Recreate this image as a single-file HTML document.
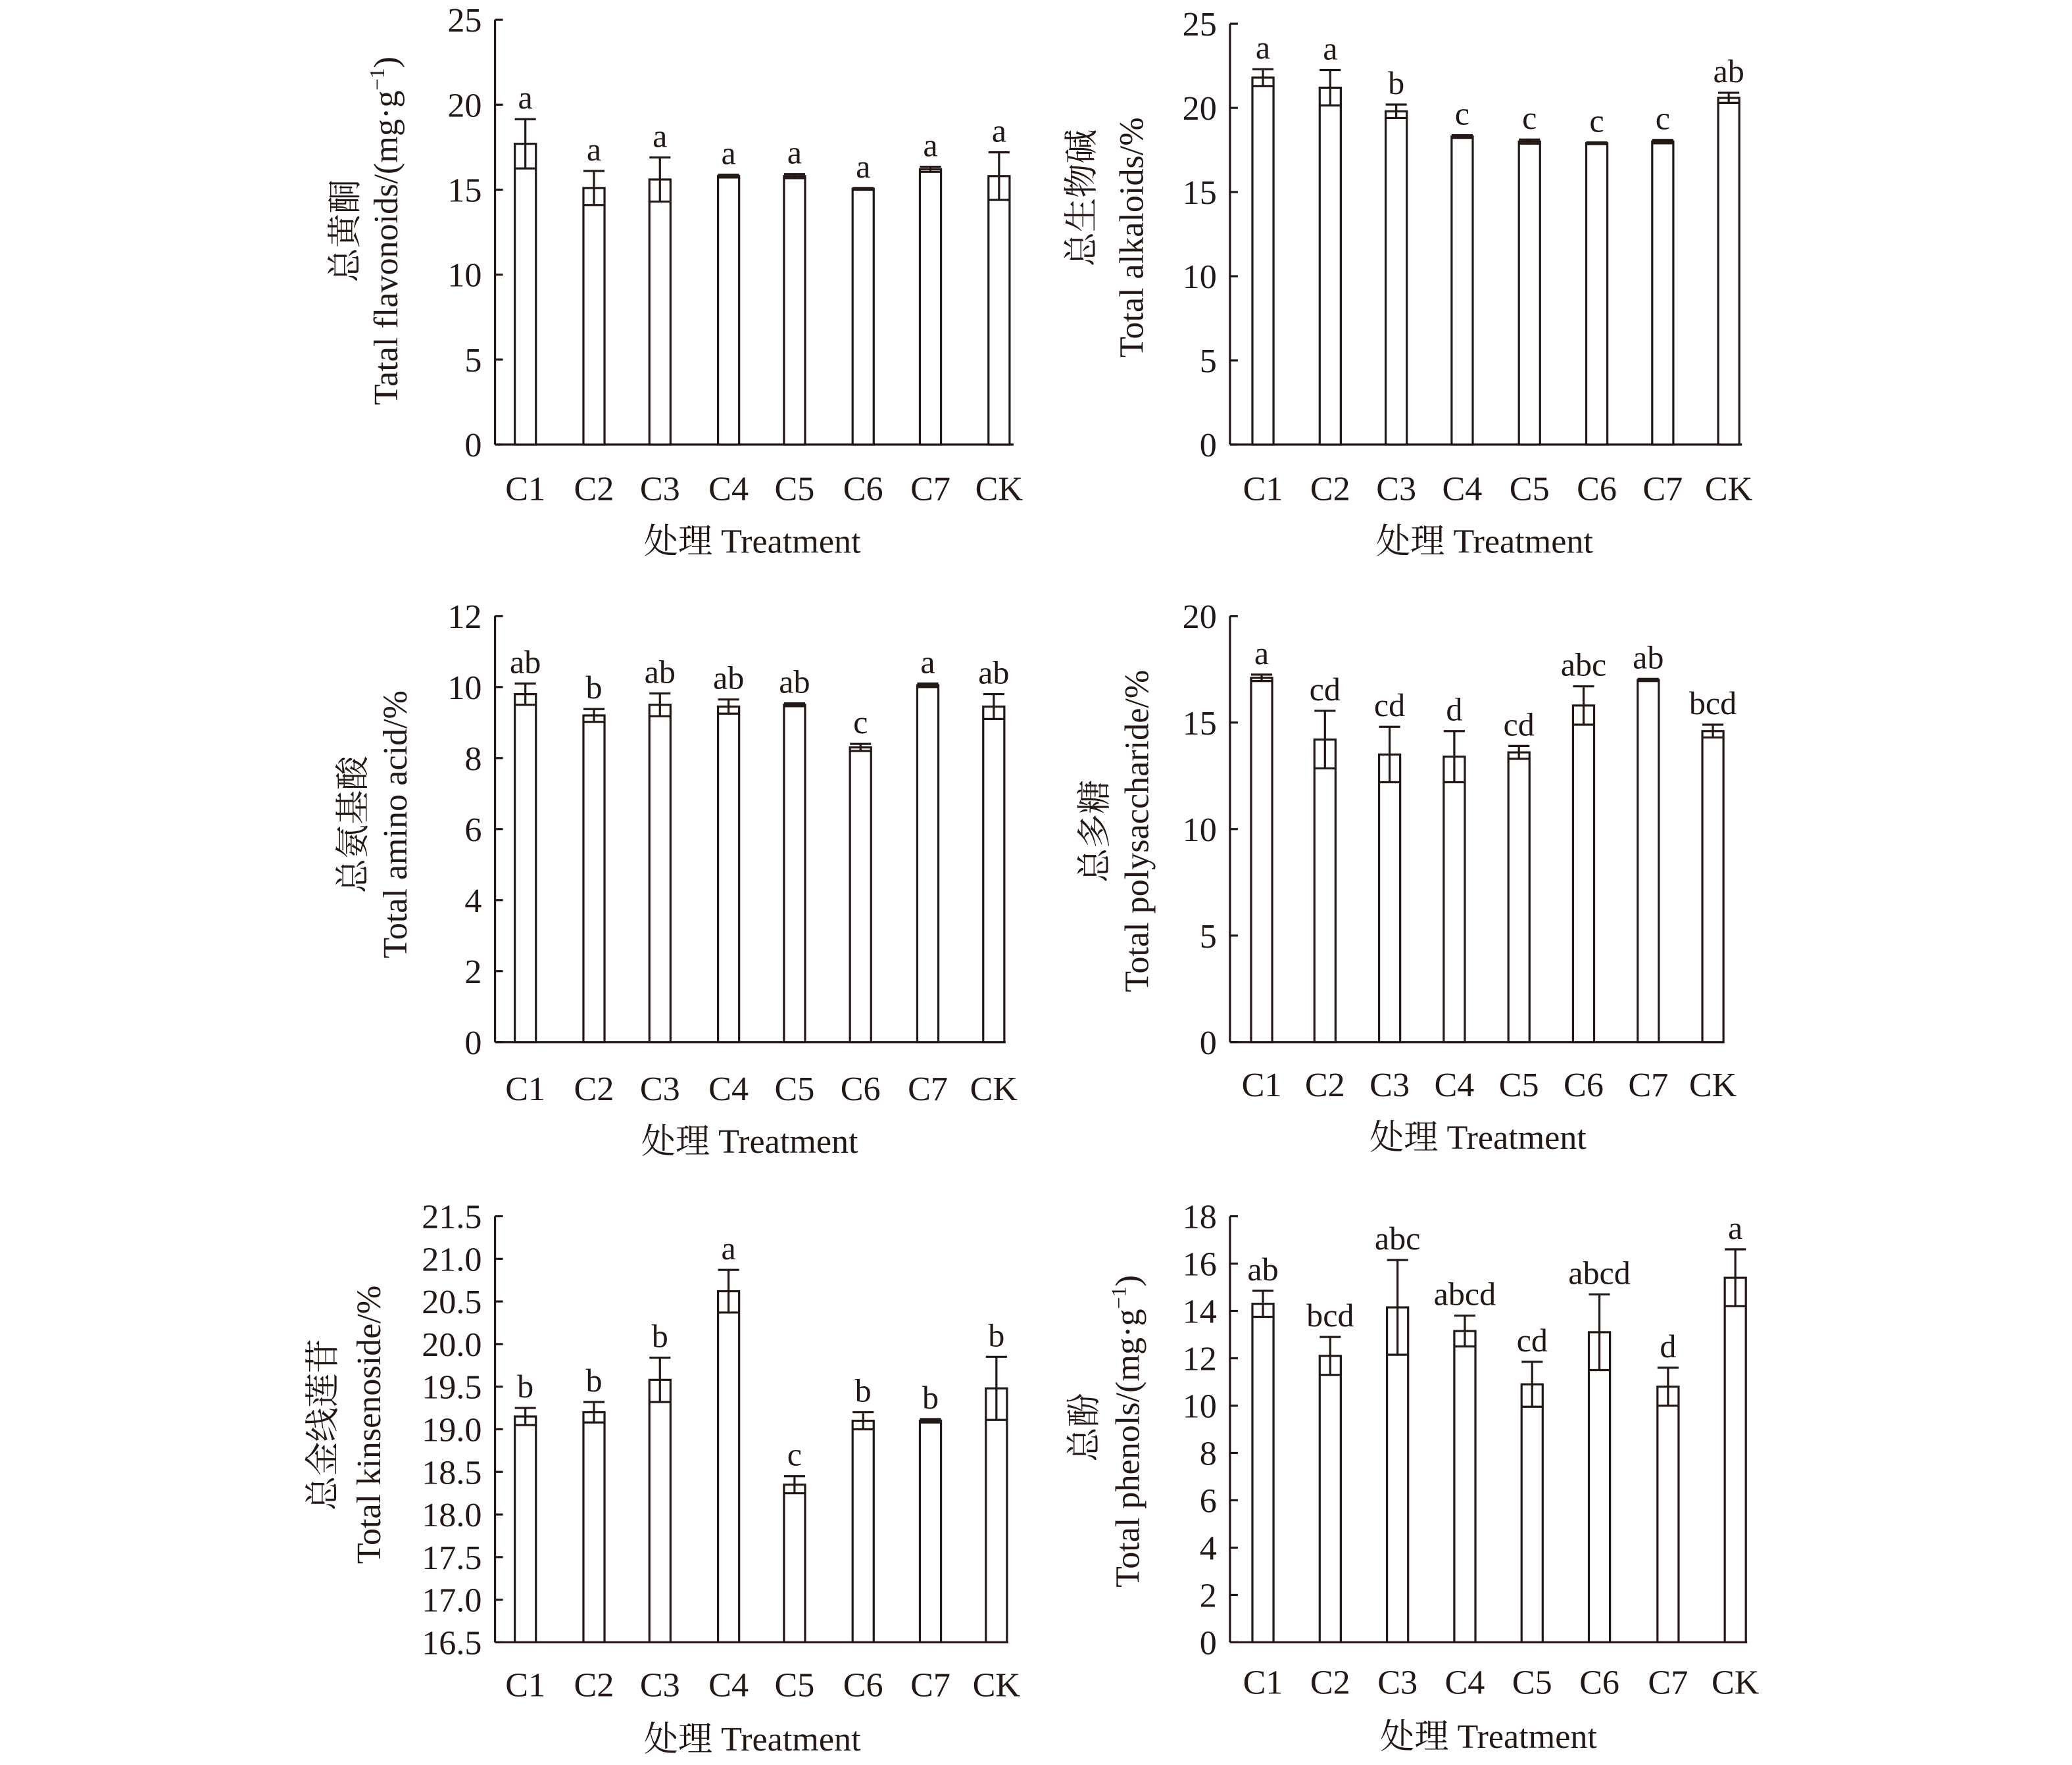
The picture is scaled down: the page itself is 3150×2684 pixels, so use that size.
<!DOCTYPE html>
<html><head><meta charset="utf-8">
<style>
html,body{margin:0;padding:0;background:#fff;}
svg{display:block;}
text{font-family:"Liberation Serif","Noto Serif CJK SC",serif;fill:#231815;}
</style></head>
<body>
<svg id="s" width="3150" height="2684" viewBox="0 0 1570 1338" xmlns="http://www.w3.org/2000/svg">
<g id="g" stroke="#231815" stroke-width="1.6" fill="none"></g>
<g font-size="26">
<text transform="translate(270,175) rotate(-90)" text-anchor="middle">总黄酮</text>
<text transform="translate(301,175) rotate(-90)" text-anchor="middle">Tatal flavonoids/(mg·g<tspan font-size="16" dy="-10">−1</tspan><tspan dy="10">)</tspan></text>
<text transform="translate(828,150) rotate(-90)" text-anchor="middle">总生物碱</text>
<text transform="translate(866,180) rotate(-90)" text-anchor="middle">Total alkaloids/%</text>
<text transform="translate(276,625) rotate(-90)" text-anchor="middle">总氨基酸</text>
<text transform="translate(308,625) rotate(-90)" text-anchor="middle">Total amino acid/%</text>
<text transform="translate(838,630) rotate(-90)" text-anchor="middle">总多糖</text>
<text transform="translate(870,630) rotate(-90)" text-anchor="middle">Total polysaccharide/%</text>
<text transform="translate(253,1080) rotate(-90)" text-anchor="middle">总金线莲苷</text>
<text transform="translate(288,1080) rotate(-90)" text-anchor="middle">Total kinsenoside/%</text>
<text transform="translate(830,1082) rotate(-90)" text-anchor="middle">总酚</text>
<text transform="translate(863,1085) rotate(-90)" text-anchor="middle">Total phenols/(mg·g<tspan font-size="16" dy="-10">−1</tspan><tspan dy="10">)</tspan></text>
<text x="570" y="419" text-anchor="middle">处理 Treatment</text>
<text x="1125" y="419" text-anchor="middle">处理 Treatment</text>
<text x="568" y="874" text-anchor="middle">处理 Treatment</text>
<text x="1120" y="871" text-anchor="middle">处理 Treatment</text>
<text x="570" y="1327" text-anchor="middle">处理 Treatment</text>
<text x="1128" y="1325" text-anchor="middle">处理 Treatment</text>
</g>
<g id="t" font-size="26"></g>
</svg>
<script>
var NS="http://www.w3.org/2000/svg";
var g=document.getElementById('g'),t=document.getElementById('t');
function el(p,n,a,txt){var e=document.createElementNS(NS,n);for(var k in a)e.setAttribute(k,a[k]);if(txt!==undefined)e.textContent=txt;p.appendChild(e);return e;}
var cats=["C1","C2","C3","C4","C5","C6","C7","CK"];
var P=[
{ax:375,xe:768,yt:15,yb:337,min:0,max:25,step:5,dec:0,xs:[398,450,500,552,602,654,705,757],ly:379,
 v:[17.7,15.1,15.6,15.8,15.8,15.05,16.2,15.8],e:[1.45,1.0,1.3,0.08,0.12,0.05,0.15,1.4],l:["a","a","a","a","a","a","a","a"]},
{ax:932,xe:1320,yt:18,yb:337,min:0,max:25,step:5,dec:0,xs:[957,1008,1058,1108,1159,1210,1260,1310],ly:379,
 v:[21.8,21.2,19.8,18.3,18.0,17.9,18.0,20.6],e:[0.5,1.05,0.4,0.08,0.12,0.05,0.1,0.3],l:["a","a","b","c","c","c","c","ab"]},
{ax:375,xe:762,yt:467,yb:790,min:0,max:12,step:2,dec:0,xs:[398,450,500,552,602,652,703,753],ly:834,
 v:[9.8,9.2,9.5,9.45,9.5,8.3,10.05,9.45],e:[0.3,0.18,0.32,0.2,0.04,0.1,0.05,0.35],l:["ab","b","ab","ab","ab","c","a","ab"]},
{ax:932,xe:1306,yt:467,yb:790,min:0,max:20,step:5,dec:0,xs:[956,1004,1053,1102,1151,1200,1249,1298],ly:831,
 v:[17.1,14.2,13.5,13.4,13.6,15.8,17.0,14.6],e:[0.15,1.35,1.3,1.2,0.3,0.9,0.05,0.3],l:["a","cd","cd","d","cd","abc","ab","bcd"]},
{ax:375,xe:764,yt:922,yb:1245,min:16.5,max:21.5,step:0.5,dec:1,xs:[398,450,500,552,602,654,705,755],ly:1286,
 v:[19.15,19.2,19.58,20.62,18.35,19.1,19.1,19.48],e:[0.1,0.12,0.26,0.25,0.1,0.1,0.02,0.37],l:["b","b","b","a","c","b","b","b"]},
{ax:932,xe:1324,yt:922,yb:1245,min:0,max:18,step:2,dec:0,xs:[957,1008,1059,1110,1161,1212,1264,1315],ly:1284,
 v:[14.3,12.1,14.15,13.15,10.9,13.1,10.8,15.4],e:[0.55,0.8,2.0,0.65,0.95,1.6,0.8,1.2],l:["ab","bcd","abc","abcd","cd","abcd","d","a"]}
];
P.forEach(function(p){
 function Y(v){return p.yb-(v-p.min)/(p.max-p.min)*(p.yb-p.yt);}
 el(g,"line",{x1:p.ax,y1:p.yt,x2:p.ax,y2:p.yb});
 el(g,"line",{x1:p.ax,y1:p.yb,x2:p.xe,y2:p.yb});
 var n=Math.round((p.max-p.min)/p.step);
 for(var i=0;i<=n;i++){var v=p.min+i*p.step,y=Y(v);
  el(g,"line",{x1:p.ax,y1:y,x2:p.ax+6,y2:y});
  el(t,"text",{x:p.ax-10,y:y+9,"text-anchor":"end"},v.toFixed(p.dec));}
 p.xs.forEach(function(x,i){
  var w=16,y=Y(p.v[i]),yh=Y(p.v[i]+p.e[i]),yl=Y(p.v[i]-p.e[i]);
  el(g,"rect",{x:x-w/2,y:y,width:w,height:p.yb-y,fill:"#fff"});
  el(g,"line",{x1:x,y1:yh,x2:x,y2:yl});
  el(g,"line",{x1:x-w/2,y1:yh,x2:x+w/2,y2:yh});
  el(g,"line",{x1:x-w/2,y1:yl,x2:x+w/2,y2:yl});
  el(t,"text",{x:x,y:yh-8,"text-anchor":"middle","font-size":"25"},p.l[i]);
  el(t,"text",{x:x,y:p.ly,"text-anchor":"middle"},cats[i]);
 });
});
</script>
</body></html>
